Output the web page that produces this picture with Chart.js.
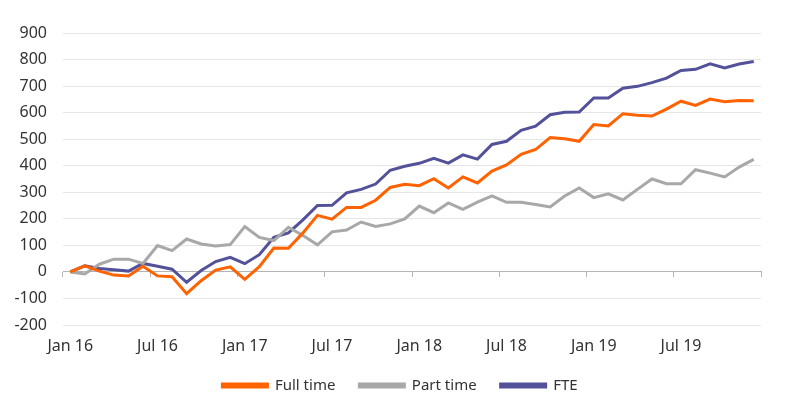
<!DOCTYPE html>
<html>
<head>
<meta charset="utf-8">
<script src="https://cdn.jsdelivr.net/npm/chart.js@4/dist/chart.umd.min.js"></script>
<style>
  html, body { margin: 0; padding: 0; background: #fff; }
  #wrap { position: relative; width: 800px; height: 412px; }
</style>
</head>
<body>
<div id="wrap"><canvas id="jobs"></canvas></div>
<script>
// ── Data (cumulative change, monthly Jan 16 – Dec 19) ────────────────────────
const months = [
  'Jan 16','Feb 16','Mar 16','Apr 16','May 16','Jun 16','Jul 16','Aug 16','Sep 16','Oct 16','Nov 16','Dec 16',
  'Jan 17','Feb 17','Mar 17','Apr 17','May 17','Jun 17','Jul 17','Aug 17','Sep 17','Oct 17','Nov 17','Dec 17',
  'Jan 18','Feb 18','Mar 18','Apr 18','May 18','Jun 18','Jul 18','Aug 18','Sep 18','Oct 18','Nov 18','Dec 18',
  'Jan 19','Feb 19','Mar 19','Apr 19','May 19','Jun 19','Jul 19','Aug 19','Sep 19','Oct 19','Nov 19','Dec 19'
];

const fullTime = [
  0, 23, 3, -12, -15, 21, -15, -18, -82, -33, 7, 19,
  -28, 20, 90, 89, 147, 213, 199, 243, 243, 270, 318, 330,
  325, 351, 316, 358, 335, 380, 403, 443, 461, 506, 502, 492,
  555, 550, 596, 590, 587, 613, 643, 627, 651, 641, 646, 645
];

const partTime = [
  0, -8, 29, 48, 48, 32, 99, 80, 124, 105, 98, 103,
  171, 130, 118, 168, 137, 102, 151, 158, 188, 171, 181, 200,
  248, 223, 260, 236, 263, 286, 262, 262, 254, 245, 286, 316,
  280, 294, 271, 311, 350, 332, 332, 385, 372, 358, 395, 424
];

const fte = [
  0, 23, 13, 8, 3, 32, 21, 10, -39, 5, 39, 55,
  31, 65, 130, 147, 196, 250, 251, 298, 311, 331, 383, 398,
  409, 428, 410, 441, 425, 480, 492, 533, 549, 592, 601, 602,
  655, 655, 692, 699, 713, 730, 759, 763, 784, 768, 783, 793
];

const yMin = -200, yMax = 900, yStep = 100;
const labelEvery = 6;

// ── Colours ──────────────────────────────────────────────────────────────────
const COLORS = {
  orange: '#FF6200',
  grey:   '#A8A8A8',
  indigo: '#525199',
  text:   '#333333',
  grid:   '#E6E6E6',
  axis:   '#B4B4B4',
};

const FONT = "'Noto Sans', sans-serif";

function lineSet(label, data, color) {
  return {
    label,
    data,
    borderColor: color,
    backgroundColor: color,
    borderWidth: 3,
    pointRadius: 0,
    pointHoverRadius: 0,
    tension: 0,
    fill: false,
  };
}

new Chart(document.getElementById('jobs'), {
  type: 'line',
  data: {
    labels: months,
    datasets: [
      lineSet('Full time', fullTime, COLORS.orange),
      lineSet('Part time', partTime, COLORS.grey),
      lineSet('FTE', fte, COLORS.indigo),
    ],
  },
  options: {
    responsive: true,
    maintainAspectRatio: false,
    animation: false,
    layout: { padding: { top: 33, right: 0, left: 0, bottom: 9 } },
    plugins: {
      tooltip: { enabled: false },
      legend: {
        position: 'bottom',
        labels: {
          boxWidth: 45,
          boxHeight: 3,
          padding: 24,
          color: COLORS.text,
          font: { family: FONT, size: 15 },
        },
      },
    },
    scales: {
      // axis line sitting on zero, with tick marks every six months
      x: {
        type: 'category',
        position: { y: 0 },
        offset: true,
        grid: {
          offset: true,
          drawOnChartArea: false,
          drawTicks: true,
          tickLength: 5,
          color: ctx => (ctx.index === undefined || ctx.index % labelEvery === 0) ? COLORS.axis : 'rgba(0,0,0,0)',
        },
        border: { display: true, color: COLORS.axis, width: 1 },
        ticks: { display: false, autoSkip: false },
      },
      // labels along the bottom
      x2: {
        type: 'category',
        position: 'bottom',
        offset: true,
        grid: { display: false, drawTicks: false },
        border: { display: false },
        ticks: {
          autoSkip: false,
          maxRotation: 0,
          padding: 12,
          color: COLORS.text,
          font: { family: FONT, size: 16 },
          callback: (v, i) => (i % labelEvery === 0 ? months[i] : ''),
        },
        afterFit: s => { s.height = 29; },
      },
      y: {
        min: yMin,
        max: yMax,
        grid: { color: COLORS.grid, drawTicks: false },
        border: { display: false },
        ticks: {
          stepSize: yStep,
          padding: 16,
          color: COLORS.text,
          font: { family: FONT, size: 16 },
        },
        afterFit: s => { s.width = 63; },
      },
      // empty right-hand gutter so the legend centres on the whole width
      yGap: {
        type: 'linear',
        position: 'right',
        grid: { display: false, drawTicks: false },
        border: { display: false },
        ticks: { display: false },
        afterFit: s => { s.width = 39; },
      },
    },
  },
});
</script>
</body>
</html>
